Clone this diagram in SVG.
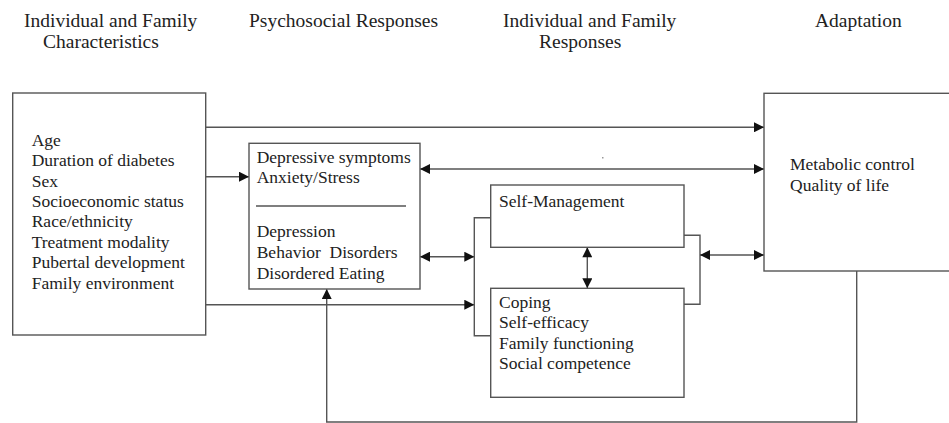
<svg xmlns="http://www.w3.org/2000/svg" width="949" height="423" viewBox="0 0 949 423">
<style>
.box{fill:#fff;stroke:#555;stroke-width:1.4}
.ln{fill:none;stroke:#555;stroke-width:1.4}
.hd{font-size:19.5px;fill:#222}
.tx{font-size:17.5px;fill:#222}
</style>
<defs>
<marker id="ah" viewBox="0 0 10 10" refX="10" refY="5" markerWidth="11" markerHeight="10" markerUnits="userSpaceOnUse" orient="auto-start-reverse">
<path d="M0,0 L10,5 L0,10 z" fill="#111"/>
</marker>
</defs>
<rect width="949" height="423" fill="#fff"/>
<g font-family="'Liberation Serif', 'DejaVu Serif', serif">
<g id="headers">
<text class="hd" x="24" y="27">Individual and Family</text>
<text class="hd" x="43" y="48">Characteristics</text>
<text class="hd" x="249" y="27">Psychosocial Responses</text>
<text class="hd" x="503" y="27">Individual and Family</text>
<text class="hd" x="539" y="48">Responses</text>
<text class="hd" x="815" y="27">Adaptation</text>
</g>
<g id="connectors">
<line class="ln" x1="206" y1="127.3" x2="764" y2="127.3" marker-end="url(#ah)"/>
<line class="ln" x1="206" y1="176.7" x2="249" y2="176.7" marker-end="url(#ah)"/>
<line class="ln" x1="420" y1="169" x2="764" y2="169" marker-start="url(#ah)" marker-end="url(#ah)"/>
<line class="ln" x1="420" y1="256.7" x2="474.3" y2="256.7" marker-start="url(#ah)" marker-end="url(#ah)"/>
<line class="ln" x1="206" y1="304.7" x2="474.3" y2="304.7" marker-end="url(#ah)"/>
<path class="ln" d="M490.7,217.7 H474.3 V335.7 H490.7"/>
<path class="ln" d="M684,235.3 H700 V304.3 H684"/>
<line class="ln" x1="700" y1="255" x2="764" y2="255" marker-start="url(#ah)" marker-end="url(#ah)"/>
<line class="ln" x1="587.3" y1="247.3" x2="587.3" y2="288.3" marker-start="url(#ah)" marker-end="url(#ah)"/>
<path class="ln" d="M856.7,271 V422 H326.7 V289" marker-end="url(#ah)"/>
</g>
<g id="characteristics">
<rect class="box" x="12.7" y="93" width="193" height="242"/>
<text class="tx" x="31.7" y="145.7">Age</text>
<text class="tx" x="31.7" y="166.1">Duration of diabetes</text>
<text class="tx" x="31.7" y="186.5">Sex</text>
<text class="tx" x="31.7" y="206.9">Socioeconomic status</text>
<text class="tx" x="31.7" y="227.3">Race/ethnicity</text>
<text class="tx" x="31.7" y="247.7">Treatment modality</text>
<text class="tx" x="31.7" y="268.1">Pubertal development</text>
<text class="tx" x="31.7" y="288.5">Family environment</text>
</g>
<g id="psychosocial">
<rect class="box" x="249" y="143.3" width="171" height="145.7"/>
<text class="tx" x="256.7" y="163.3">Depressive symptoms</text>
<text class="tx" x="256.7" y="183.3">Anxiety/Stress</text>
<line class="ln" x1="256" y1="206" x2="406" y2="206"/>
<text class="tx" x="256.7" y="237.3">Depression</text>
<text class="tx" x="256.7" y="258.3" xml:space="preserve">Behavior  Disorders</text>
<text class="tx" x="256.7" y="279">Disordered Eating</text>
</g>
<g id="self-management">
<rect class="box" x="490.7" y="185" width="193.3" height="62.3"/>
<text class="tx" x="499" y="206.7">Self-Management</text>
</g>
<g id="coping">
<rect class="box" x="490.7" y="288.3" width="193.3" height="109"/>
<text class="tx" x="499" y="308.3">Coping</text>
<text class="tx" x="499" y="328.3">Self-efficacy</text>
<text class="tx" x="499" y="348.5">Family functioning</text>
<text class="tx" x="499" y="368.5">Social competence</text>
</g>
<g id="adaptation">
<rect class="box" x="764" y="93.3" width="200" height="177.7"/>
<text class="tx" x="790" y="170">Metabolic control</text>
<text class="tx" x="790" y="191">Quality of life</text>
</g>
</g>
<rect x="602" y="157" width="1.5" height="1.5" fill="#999"/>
</svg>
